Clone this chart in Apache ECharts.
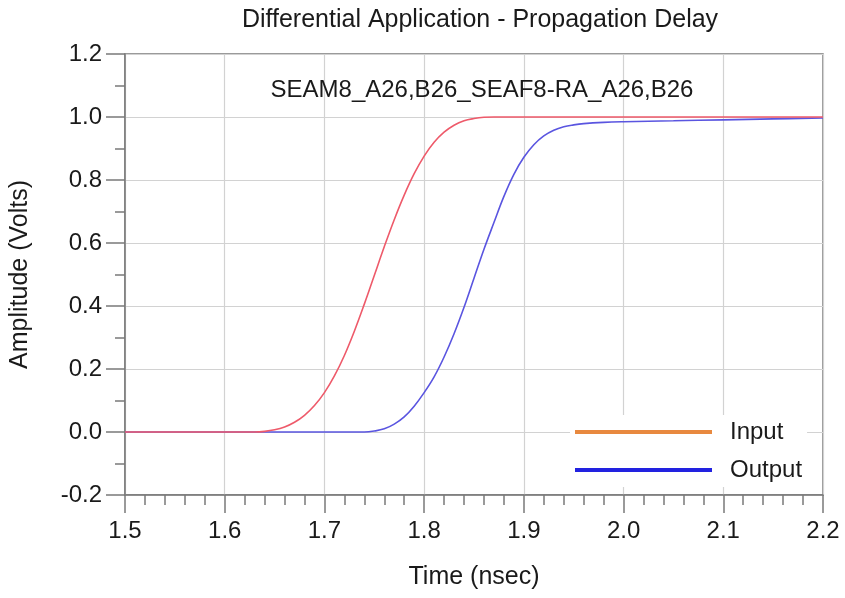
<!DOCTYPE html>
<html>
<head>
<meta charset="utf-8">
<script src="https://cdn.jsdelivr.net/npm/echarts@6/dist/echarts.min.js"></script>
<style>
    html, body { margin: 0; padding: 0; background: #fff; }
    #chart { width: 845px; height: 598px; }
</style>
</head>
<body>
<div id="chart"></div>
<script>
// time axis ticks (nsec) and volt ticks
const timeTicks = [1.5, 1.6, 1.7, 1.8, 1.9, 2.0, 2.1, 2.2];
const voltTicks = [-0.2, 0.0, 0.2, 0.4, 0.6, 0.8, 1.0, 1.2];

// Input waveform
const inputTime = [1.50, 1.60, 1.63, 1.64, 1.65, 1.66, 1.67, 1.68, 1.69, 1.70, 1.71, 1.72, 1.73, 1.74,
    1.75, 1.76, 1.77, 1.78, 1.79, 1.80, 1.81, 1.82, 1.83, 1.84, 1.85, 1.86, 1.87, 1.90, 2.00, 2.10, 2.20];
const inputVolts = [0, 0, 0, 0.002, 0.007, 0.016, 0.031, 0.053, 0.084, 0.125, 0.178, 0.243, 0.320, 0.406,
    0.497, 0.588, 0.674, 0.752, 0.820, 0.876, 0.920, 0.952, 0.974, 0.988, 0.995, 0.999, 1.0, 1.0, 1.0, 1.0, 1.0];

// Output waveform
const outputTime = [1.50, 1.60, 1.70, 1.74, 1.75, 1.76, 1.77, 1.78, 1.79, 1.80, 1.81, 1.82, 1.83, 1.84,
    1.85, 1.86, 1.87, 1.88, 1.89, 1.90, 1.91, 1.92, 1.93, 1.94, 1.95, 1.96, 1.98, 2.00, 2.05, 2.10, 2.15, 2.20];
const outputVolts = [0, 0, 0, 0, 0.003, 0.01, 0.025, 0.048, 0.082, 0.125, 0.175, 0.238, 0.312, 0.396,
    0.488, 0.58, 0.665, 0.748, 0.818, 0.872, 0.912, 0.940, 0.958, 0.969, 0.975, 0.979, 0.983, 0.985, 0.988, 0.991, 0.994, 0.997];

const toPairs = (xs, ys) => xs.map((x, i) => [x, ys[i]]);

const textColor = '#1a1a1a';
const axisGray = '#7a7a7a';
const font = 'Liberation Sans, Arial, sans-serif';

let myChart = echarts.init(document.getElementById('chart'));
let option = {
    animation: false,
    textStyle: { fontFamily: font },
    title: [{
        text: 'Differential Application - Propagation Delay',
        left: 475,
        top: 3,
        textAlign: 'center',
        textStyle: { fontSize: 25, fontWeight: 'normal', color: textColor, fontFamily: font }
    }, {
        text: 'SEAM8_A26,B26_SEAF8-RA_A26,B26',
        left: 477,
        top: 73,
        textAlign: 'center',
        textStyle: { fontSize: 24, fontWeight: 'normal', color: textColor, fontFamily: font }
    }],
    legend: {
        orient: 'vertical',
        left: 570,
        top: 415,
        padding: [5, 5, 5, 5],
        itemGap: 14,
        itemWidth: 137,
        itemHeight: 4,
        icon: 'rect',
        backgroundColor: '#fff',
        textStyle: { fontSize: 24, color: textColor, padding: [0, 0, 0, 13] },
        data: [
            { name: 'Input', itemStyle: { color: '#e8893f' } },
            { name: 'Output', itemStyle: { color: '#2222e0' } }
        ]
    },
    grid: {
        show: true,
        left: 125,
        right: 22,
        top: 54,
        bottom: 103,
        borderColor: axisGray,
        borderWidth: 1.5
    },
    xAxis: {
        type: 'value',
        min: timeTicks[0],
        max: timeTicks[timeTicks.length - 1],
        interval: 0.1,
        name: 'Time (nsec)',
        nameLocation: 'middle',
        nameGap: 70,
        nameTextStyle: { fontSize: 25, color: textColor },
        axisLine: { onZero: false, lineStyle: { color: axisGray, width: 1.5 } },
        axisTick: { length: 18, lineStyle: { color: axisGray, width: 1.5 } },
        minorTick: { show: true, splitNumber: 5, length: 10, lineStyle: { color: axisGray, width: 1.5 } },
        axisLabel: {
            fontSize: 24, color: textColor, margin: 24,
            formatter: (v) => v.toFixed(1)
        },
        splitLine: { show: true, lineStyle: { color: '#d2d2d2', width: 1.2 } }
    },
    yAxis: {
        type: 'value',
        min: voltTicks[0],
        max: voltTicks[voltTicks.length - 1],
        interval: 0.2,
        name: 'Amplitude (Volts)',
        nameLocation: 'middle',
        nameGap: 92,
        nameTextStyle: { fontSize: 25, color: textColor },
        axisLine: { show: true, onZero: false, lineStyle: { color: axisGray, width: 1.5 } },
        axisTick: { show: true, length: 19, lineStyle: { color: axisGray, width: 1.5 } },
        minorTick: { show: true, splitNumber: 2, length: 10, lineStyle: { color: axisGray, width: 1.5 } },
        axisLabel: {
            fontSize: 24, color: textColor, margin: 23,
            formatter: (v) => v.toFixed(1)
        },
        splitLine: { show: true, lineStyle: { color: '#d2d2d2', width: 1.2 } }
    },
    series: [{
        name: 'Input',
        type: 'line',
        data: toPairs(inputTime, inputVolts),
        showSymbol: false,
        symbol: 'none',
        smooth: 0.4,
        lineStyle: { color: '#ee5a6a', width: 1.6 },
        itemStyle: { color: '#ee5a6a' },
        z: 3
    }, {
        name: 'Output',
        type: 'line',
        data: toPairs(outputTime, outputVolts),
        showSymbol: false,
        symbol: 'none',
        smooth: 0.4,
        lineStyle: { color: '#5a55e0', width: 1.6 },
        itemStyle: { color: '#5a55e0' },
        z: 2
    }]
};
myChart.setOption(option);
</script>
</body>
</html>
